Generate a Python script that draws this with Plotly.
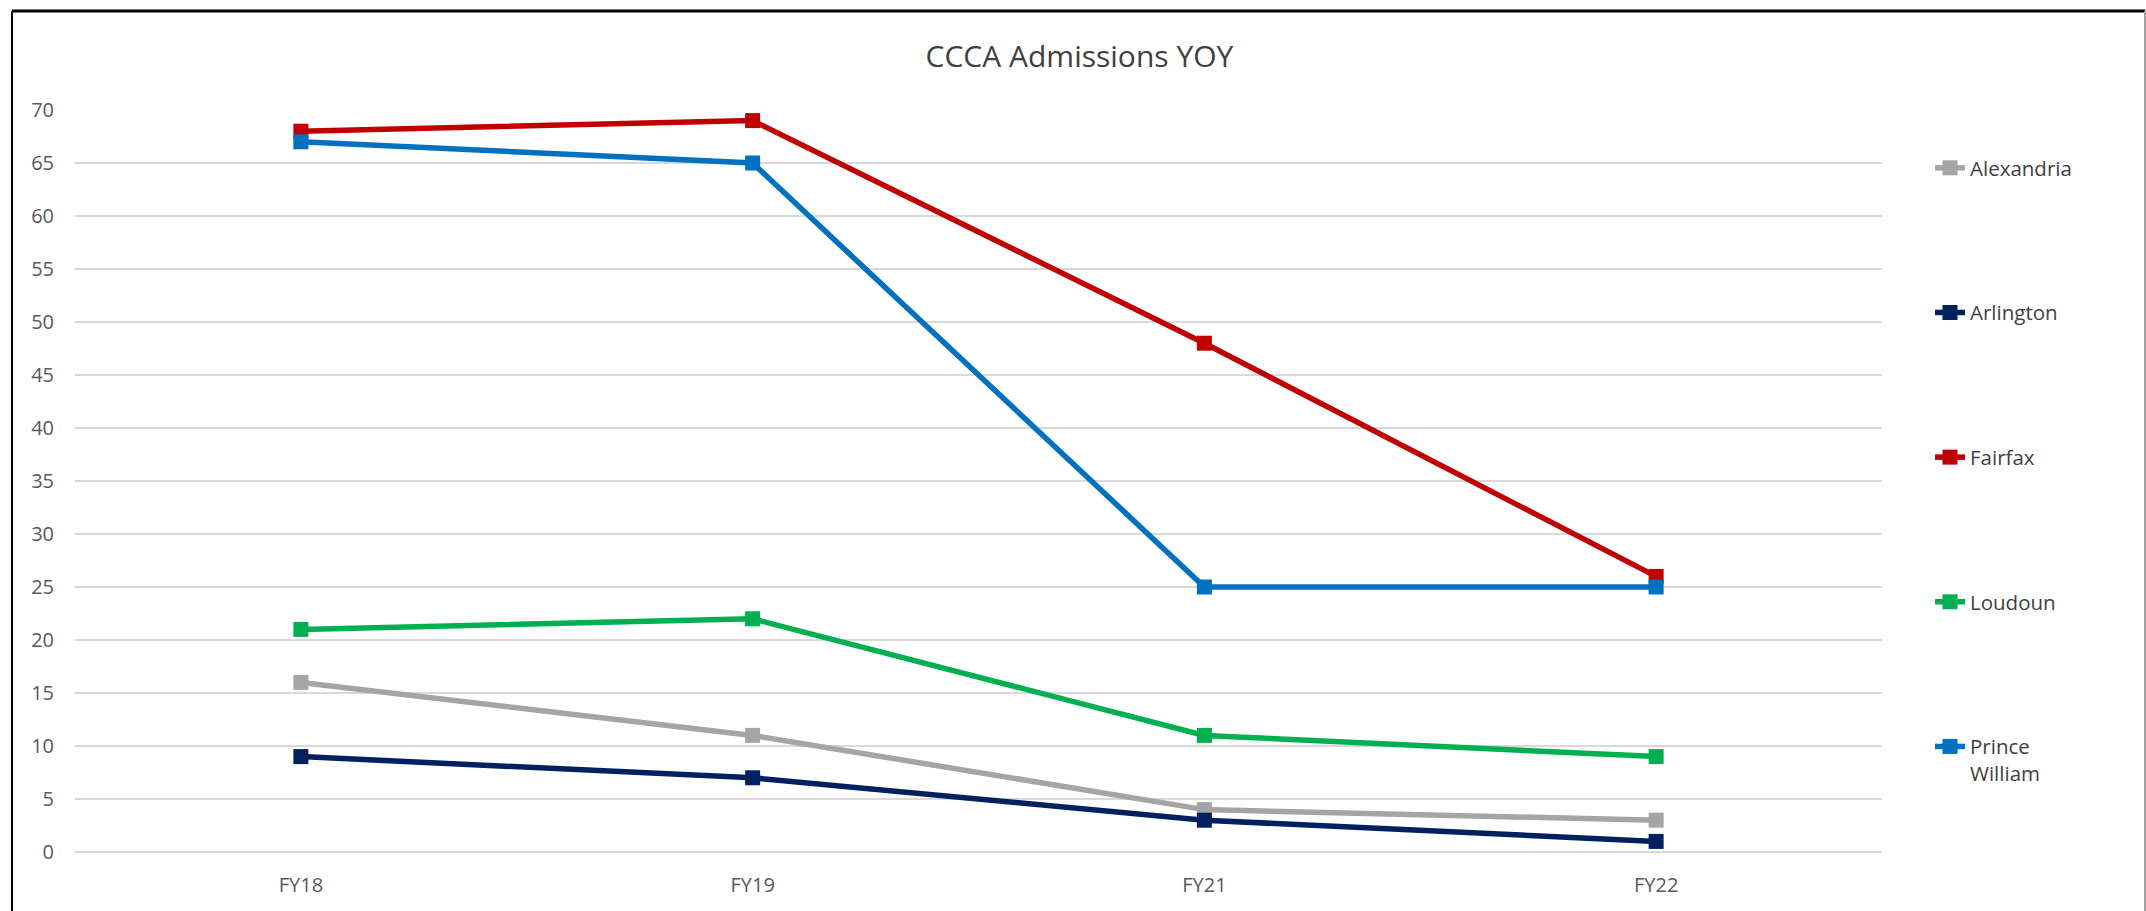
import plotly.graph_objects as go

categories = ["FY18", "FY19", "FY21", "FY22"]
alexandria = [16, 11, 4, 3]
arlington = [9, 7, 3, 1]
fairfax = [68, 69, 48, 26]
loudoun = [21, 22, 11, 9]
prince_william = [67, 65, 25, 25]

series_names = ["Alexandria", "Arlington", "Fairfax", "Loudoun", "Prince<br>William"]
series_values = [alexandria, arlington, fairfax, loudoun, prince_william]
series_colors = ["#A5A5A5", "#002060", "#C00000", "#00B050", "#0070C0"]

W, H = 2146, 911
ML, MR, MT, MB = 75, 264, 110, 59
PW, PH = W - ML - MR, H - MT - MB

FONT = "Open Sans, DejaVu Sans, sans-serif"

fig = go.Figure()
for i, (name, vals, col) in enumerate(zip(series_names, series_values, series_colors)):
    fig.add_trace(go.Scatter(
        x=categories, y=vals, name=name, mode="lines+markers",
        line=dict(color=col, width=5.5),
        marker=dict(symbol="square", size=15, color=col),
        legendgroup=f"g{i}", cliponaxis=False,
    ))

def px_x(px):
    return (px - ML) / PW

def px_y(py):
    return 1 - (py - MT) / PH

shapes = [
    dict(type="line", xref="paper", yref="paper", x0=px_x(12), x1=px_x(2145), y0=px_y(11), y1=px_y(11),
         line=dict(color="#000000", width=3)),
    dict(type="line", xref="paper", yref="paper", x0=px_x(12), x1=px_x(12), y0=px_y(11), y1=px_y(915),
         line=dict(color="#000000", width=2)),
    dict(type="line", xref="paper", yref="paper", x0=px_x(2145), x1=px_x(2145), y0=px_y(11), y1=px_y(915),
         line=dict(color="#A0A0A0", width=2)),
]

fig.update_layout(
    width=W, height=H,
    margin=dict(l=ML, r=MR, t=MT, b=MB, pad=0),
    paper_bgcolor="white", plot_bgcolor="white",
    title=dict(text="CCCA Admissions YOY", x=0.503, xref="container", xanchor="center",
               y=1 - 56 / H, yref="container", yanchor="middle",
               font=dict(family=FONT, size=30, color="#404040")),
    xaxis=dict(type="category", range=[-0.5, 3.5], showgrid=False, showline=False, zeroline=False,
               ticks="", tickfont=dict(family=FONT, size=20, color="#595959"), ticklabelstandoff=19),
    yaxis=dict(range=[0, 70], dtick=5, tick0=0, showgrid=True, gridcolor="#D9D9D9", gridwidth=1.5,
               zeroline=True, zerolinecolor="#D9D9D9", zerolinewidth=1.5, showline=False, ticks="",
               tickfont=dict(family=FONT, size=20, color="#595959"), ticklabelstandoff=20),
    legend=dict(x=px_x(1930), y=px_y(148), xanchor="left", yanchor="top",
                font=dict(family=FONT, size=20.5, color="#404040"),
                tracegroupgap=115, valign="top", bgcolor="rgba(0,0,0,0)"),
    shapes=shapes,
)

fig.write_html("out.html", config={"displayModeBar": False},
               post_script="document.body.style.margin='0';document.body.style.overflow='hidden';")
